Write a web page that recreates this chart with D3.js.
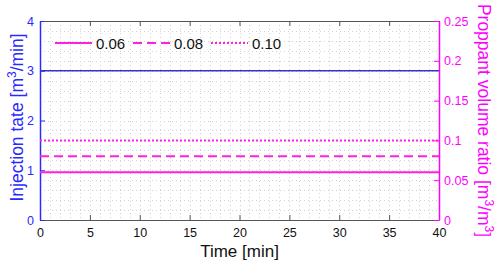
<!DOCTYPE html>
<html>
<head>
<meta charset="utf-8">
<script src="https://d3js.org/d3.v7.min.js"></script>
<style>
body { margin: 0; background: #fff; }
text { font-family: "Liberation Sans", Arial, sans-serif; }
</style>
</head>
<body>
<script>
// data
const timeRange = [0, 40];
const rateTicks = [0, 1, 2, 3, 4];
const ratioTicks = [0, 0.05, 0.1, 0.15, 0.2, 0.25];
const timeTicks = [0, 5, 10, 15, 20, 25, 30, 35, 40];
const injectionRate = [{t: 0, v: 3}, {t: 40, v: 3}];
const ratioSeries = [
  {name: "0.06", value: 0.06, dash: null},
  {name: "0.08", value: 0.08, dash: "9,5"},
  {name: "0.10", value: 0.10, dash: "2,2"}
];

const W = 498, H = 265;
const pL = 40, pR = 439, pT = 21, pB = 220;
const blue = "#2a2aff", lineBlue = "#3535cc", pink = "#ff00ff", linePink = "#ff22dd";

const svg = d3.select("body").append("svg")
  .attr("width", W).attr("height", H);

const x = d3.scaleLinear().domain(timeRange).range([pL, pR]);
const yL = d3.scaleLinear().domain([0, 4]).range([pB, pT]);
const yR = d3.scaleLinear().domain([0, 0.25]).range([pB, pT]);

// minor dotted grid
const grid = svg.append("g").attr("stroke", "#d2d2d2").attr("stroke-width", 1)
  .attr("stroke-dasharray", "1,3");
grid.selectAll(".gx").data(d3.range(1, 40)).enter().append("line")
  .attr("x1", d => Math.round(x(d)) + 0.5).attr("x2", d => Math.round(x(d)) + 0.5)
  .attr("y1", pT).attr("y2", pB);
grid.selectAll(".gy").data(d3.range(1, 20).map(d => d * 0.2)).enter().append("line")
  .attr("y1", d => Math.round(yL(d)) + 0.5).attr("y2", d => Math.round(yL(d)) + 0.5)
  .attr("x1", pL).attr("x2", pR);

// bottom + top axes
const xb = svg.append("g").attr("transform", `translate(0,${pB})`)
  .call(d3.axisBottom(x).tickValues(timeTicks).tickSizeInner(-5).tickSizeOuter(0).tickPadding(8));
xb.select(".domain").attr("stroke", "#555");
xb.selectAll(".tick line").attr("stroke", "#555");
xb.selectAll("text").attr("fill", "#111").attr("font-size", 12.5);

const xt = svg.append("g").attr("transform", `translate(0,${pT})`)
  .call(d3.axisTop(x).tickValues(timeTicks).tickSizeInner(-5).tickSizeOuter(0).tickFormat(""));
xt.select(".domain").attr("stroke", "#555");
xt.selectAll(".tick line").attr("stroke", "#555");

// left axis
const yl = svg.append("g").attr("transform", `translate(${pL},0)`)
  .call(d3.axisLeft(yL).tickValues(rateTicks).tickSizeInner(-5).tickSizeOuter(0).tickPadding(6)
    .tickFormat(d3.format("d")));
yl.select(".domain").attr("stroke", blue).attr("stroke-width", 1.5);
yl.selectAll(".tick line").attr("stroke", blue);
yl.selectAll("text").attr("fill", blue).attr("font-size", 12.5);

// right axis
const yr = svg.append("g").attr("transform", `translate(${pR},0)`)
  .call(d3.axisRight(yR).tickValues(ratioTicks).tickSizeInner(-5).tickSizeOuter(0).tickPadding(5)
    .tickFormat(d => String(+d.toFixed(2))));
yr.select(".domain").attr("stroke", pink).attr("stroke-width", 1.5);
yr.selectAll(".tick line").attr("stroke", pink);
yr.selectAll("text").attr("fill", pink).attr("font-size", 12.5);

// injection rate line
svg.append("path").datum(injectionRate)
  .attr("fill", "none").attr("stroke", lineBlue).attr("stroke-width", 1.5)
  .attr("d", d3.line().x(d => x(d.t)).y(d => yL(d.v)));

// proppant ratio lines
svg.selectAll(".ratio").data(ratioSeries).enter().append("line")
  .attr("x1", x(timeRange[0])).attr("x2", x(timeRange[1]))
  .attr("y1", d => yR(d.value)).attr("y2", d => yR(d.value))
  .attr("stroke", linePink).attr("stroke-width", 2)
  .attr("stroke-dasharray", d => d.dash);

// legend
const lg = svg.append("g").attr("transform", `translate(55,${pT + 22})`);
ratioSeries.forEach((s, i) => {
  const g = lg.append("g").attr("transform", `translate(${i * 78},0)`);
  g.append("line").attr("x1", 0).attr("x2", 37).attr("y1", 0).attr("y2", 0)
    .attr("stroke", linePink).attr("stroke-width", 2).attr("stroke-dasharray", s.dash);
  g.append("text").attr("x", 41).attr("y", 5.5).attr("font-size", 15).attr("fill", "#111").text(s.name);
});

// axis titles
svg.append("text").attr("x", (pL + pR) / 2).attr("y", 257)
  .attr("text-anchor", "middle").attr("font-size", 17).attr("fill", "#111").text("Time [min]");

const tl = svg.append("text").attr("transform", `translate(23,${(pT + pB) / 2 - 3}) rotate(-90)`)
  .attr("text-anchor", "middle").attr("font-size", 17.5).attr("fill", blue);
tl.append("tspan").text("Injection tate [m");
tl.append("tspan").attr("dy", -7).attr("font-size", 12).text("3");
tl.append("tspan").attr("dy", 7).text("/min]");

const tr = svg.append("text").attr("transform", `translate(478,${(pT + pB) / 2}) rotate(90)`)
  .attr("text-anchor", "middle").attr("font-size", 17.5).attr("fill", pink);
tr.append("tspan").text("Proppant volume ratio [m");
tr.append("tspan").attr("dy", -7).attr("font-size", 12).text("3");
tr.append("tspan").attr("dy", 7).text("/m");
tr.append("tspan").attr("dy", -7).attr("font-size", 12).text("3");
tr.append("tspan").attr("dy", 7).text("]");
</script>
</body>
</html>
